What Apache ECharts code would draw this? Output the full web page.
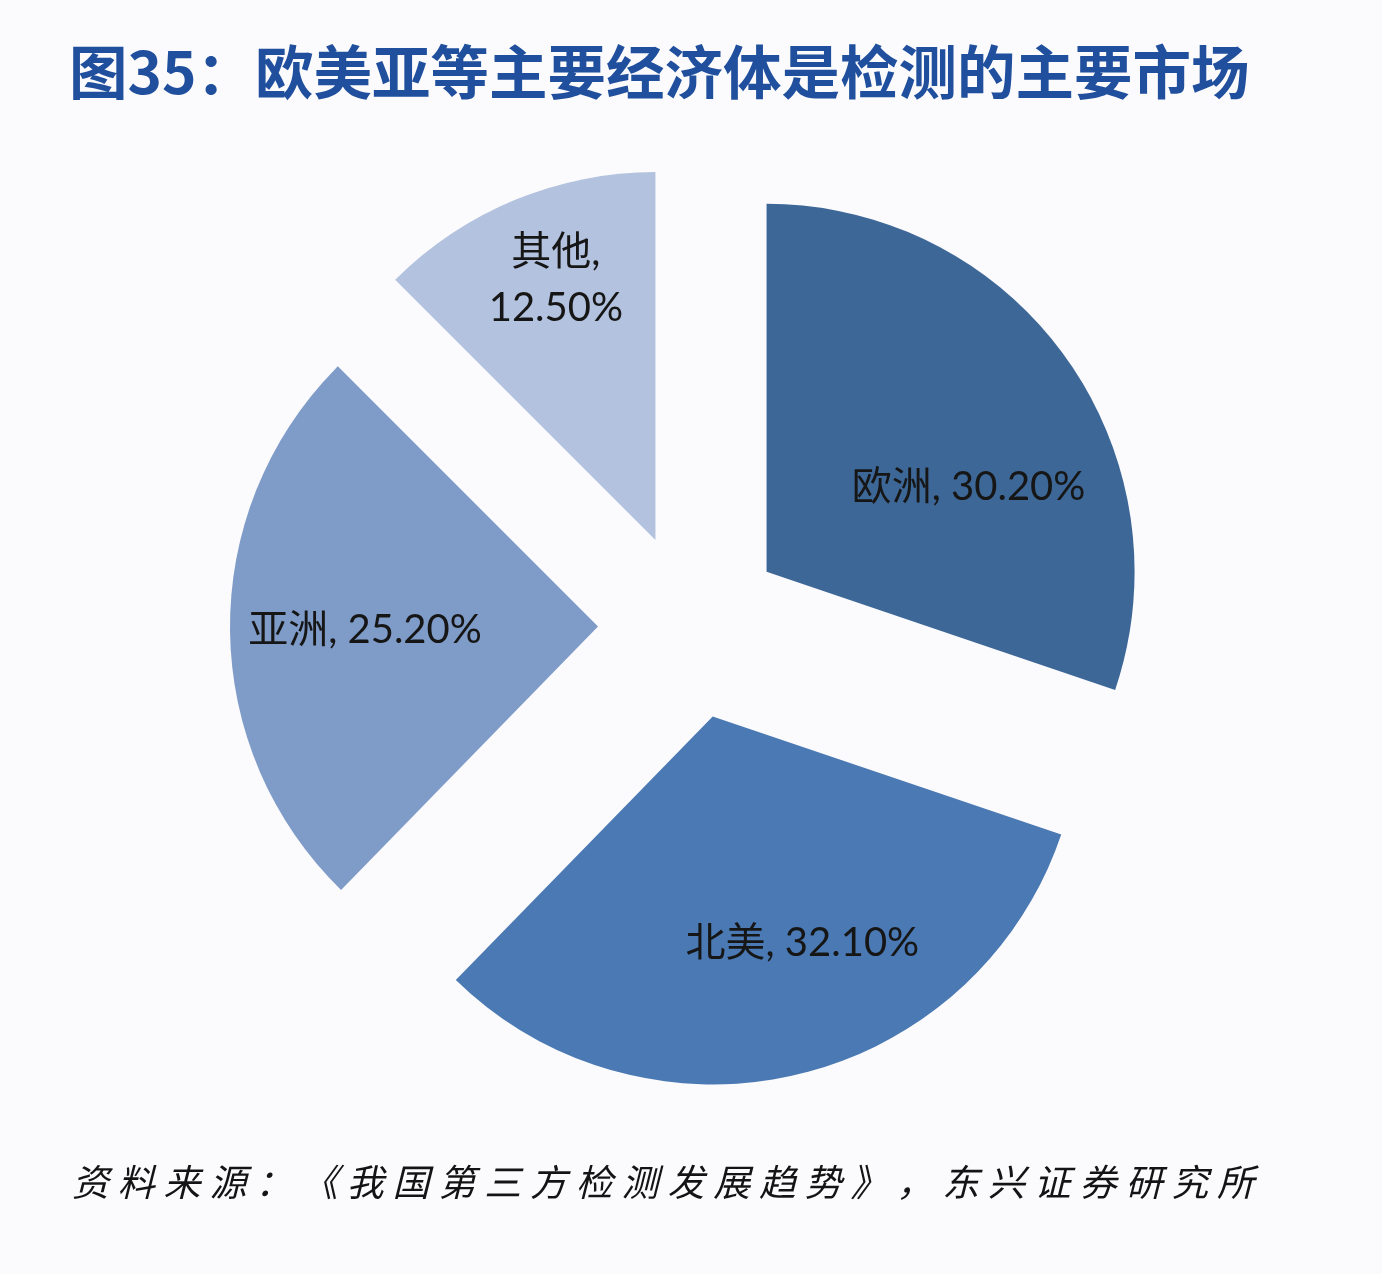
<!DOCTYPE html>
<html>
<head>
<meta charset="utf-8">
<script src="https://cdn.jsdelivr.net/npm/echarts@6/dist/echarts.min.js"></script>
<style>
html,body{margin:0;padding:0;background:#fbfafd;}
#main{width:1382px;height:1274px;}
</style>
</head>
<body>
<div id="main"></div>
<script>
const titleText = '图35：欧美亚等主要经济体是检测的主要市场';
const sourceText = '资料来源：《我国第三方检测发展趋势》，东兴证券研究所';
const regions = ['欧洲', '北美', '亚洲', '其他'];
const shares = [30.2, 32.1, 25.2, 12.5];
const sliceColors = ['#3d6797', '#4a79b3', '#7f9cc9', '#b3c2de'];
const labelShift = [[50, 24], [46, 45], [-46, 2], [-28, -87]];

const chart = echarts.init(document.getElementById('main'));

const srcChars = Array.from(sourceText);
const srcGraphics = srcChars.map((ch, i) => ({
  type: 'text',
  x: 72 + i * 45.8,
  y: 1163,
  style: {
    text: ch,
    font: 'italic 37px "Noto Sans CJK SC"',
    fill: '#141414'
  },
  silent: true
}));

chart.setOption({
  backgroundColor: '#fbfafd',
  animation: false,
  title: {
    text: titleText,
    left: 64,
    top: 38,
    textStyle: {
      fontFamily: '"Noto Sans CJK SC"',
      fontWeight: 'bold',
      fontSize: 58.5,
      color: '#1f4f9d'
    }
  },
  graphic: srcGraphics,
  series: [{
    type: 'pie',
    center: ['50%', 626],
    radius: [0, 368],
    startAngle: 90,
    clockwise: true,
    selectedMode: 'multiple',
    selectedOffset: 93,
    emphasis: { disabled: true },
    select: { itemStyle: {} },
    labelLine: { show: false },
    label: {
      show: true,
      position: 'inside',
      fontFamily: 'Lato, "Noto Sans CJK SC"',
      fontSize: 40,
      lineHeight: 56,
      color: '#161616',
      align: 'center',
      formatter: function (p) {
        const v = p.value.toFixed(2) + '%';
        return p.name === '其他' ? p.name + ',\n' + v : p.name + ', ' + v;
      }
    },
    labelLayout: function (p) {
      const s = labelShift[p.dataIndex];
      return { dx: s[0], dy: s[1] };
    },
    data: regions.map((r, i) => ({
      name: r,
      value: shares[i],
      selected: true,
      itemStyle: { color: sliceColors[i] }
    }))
  }]
});
</script>
</body>
</html>
